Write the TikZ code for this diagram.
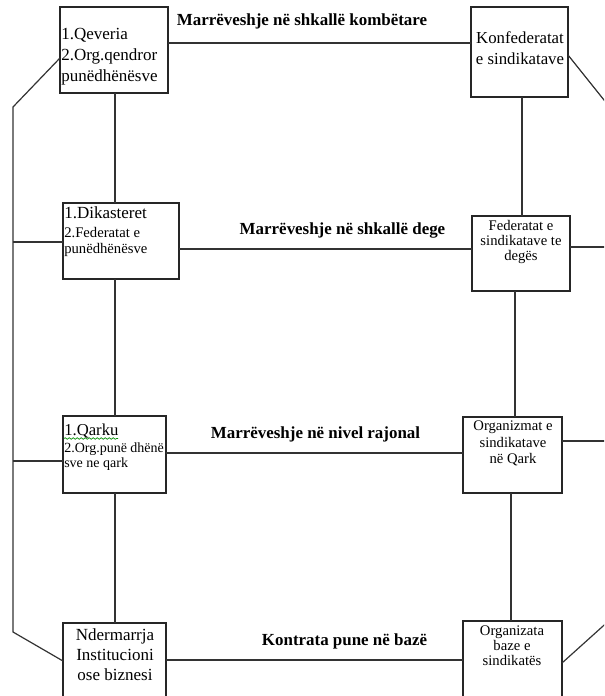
\documentclass[tikz,border=0pt]{standalone}
\usepackage{fontspec}
\setmainfont{Liberation Serif}
\usetikzlibrary{decorations.pathmorphing}
\tikzset{
  box/.style={draw=black!85, line width=0.9pt, inner sep=0pt, outer sep=0pt, fill=white},
  conn/.style={draw=black!80, line width=0.9pt},
  tl/.style={inner sep=0pt, anchor=base west, font=\fontsize{12.75}{15}\selectfont},
  ts/.style={inner sep=0pt, anchor=base west, font=\fontsize{11}{13}\selectfont},
  tq/.style={inner sep=0pt, anchor=base west, font=\fontsize{10.5}{13}\selectfont},
  cl/.style={inner sep=0pt, anchor=base, font=\fontsize{12.6}{15}\selectfont},
  cs/.style={inner sep=0pt, anchor=base, font=\fontsize{11}{13}\selectfont},
  lab/.style={inner sep=0pt, anchor=base, font=\fontsize{12.7}{15}\selectfont\bfseries}
}
\begin{document}
\begin{tikzpicture}[x=0.75pt,y=-0.75pt]
\useasboundingbox (0,0) rectangle (604,696);
\clip (0,0) rectangle (604,696);
\fill[white] (0,0) rectangle (604,696);
% boxes
\node[box, minimum width=81pt, minimum height=64.5pt] (B1) at (114,50) {};
\node[box, minimum width=72.75pt, minimum height=67.5pt] (Kf) at (519.5,52) {};
\node[box, minimum width=87pt, minimum height=57pt] (B2) at (121,241) {};
\node[box, minimum width=73.5pt, minimum height=56.25pt] (Fd) at (521,253.5) {};
\node[box, minimum width=77.25pt, minimum height=57.75pt] (B3) at (114.5,454.5) {};
\node[box, minimum width=74.25pt, minimum height=57pt] (Og) at (512.5,455) {};
\node[box, minimum width=77.25pt, minimum height=72.75pt] (B4) at (114.5,671.5) {};
\node[box, minimum width=74.25pt, minimum height=74.25pt] (Oz) at (512.5,670.5) {};
% connectors
\draw[conn] (B1.east |- 0,43) -- (Kf.west |- 0,43);
\draw[conn] (B1.south -| 115,0) -- (B2.north -| 115,0);
\draw[conn] (Kf.south -| 522,0) -- (Fd.north -| 522,0);
\draw[conn] (B2.east |- 0,249) -- (Fd.west |- 0,249);
\draw[conn] (B2.south -| 115,0) -- (B3.north -| 115,0);
\draw[conn] (Fd.south -| 515,0) -- (Og.north -| 515,0);
\draw[conn] (B3.east |- 0,453) -- (Og.west |- 0,453);
\draw[conn] (B3.south -| 115,0) -- (B4.north -| 115,0);
\draw[conn] (Og.south -| 511,0) -- (Oz.north -| 511,0);
\draw[conn] (B4.east |- 0,660) -- (Oz.west |- 0,660);
% left spine
\coordinate (L1) at (13,107);
\coordinate (L2) at (13,632);
\coordinate (L3) at (13,242);
\coordinate (L4) at (13,461);
\draw[conn] (B1.west |- 0,58) -- (L1) -- (L2) -- (B4.west |- 0,661);
\draw[conn] (L3) -- (B2.west |- L3);
\draw[conn] (L4) -- (B3.west |- L4);
% right side
\coordinate (R1) at (610,247);
\coordinate (R2) at (610,441);
\coordinate (R3) at (612,110);
\coordinate (R4) at (612,618);
\draw[conn] (Fd.east |- R1) -- (R1);
\draw[conn] (Og.east |- R2) -- (R2);
\draw[conn] (Kf.east |- 0,55) -- (R3);
\draw[conn] (Oz.east |- 0,663) -- (R4);
% texts
\node[tl] (t1a) at (61,39) {1.Qeveria};
\node[tl] (t1b) at (61,60) {2.Org.qendror};
\node[tl] (t1c) at (61,81) {punëdhënësve};
\node[cl] (tka) at (520,43) {Konfederatat};
\node[cl] (tkb) at (520,64) {e sindikatave};
\node[tl] (t2a) at (64,218) {1.Dikasteret};
\node[ts] (t2b) at (64,237) {2.Federatat e};
\node[ts] (t2c) at (64,253) {punëdhënësve};
\node[cs] (tfa) at (521,230) {Federatat e};
\node[cs] (tfb) at (521,245) {sindikatave te};
\node[cs] (tfc) at (521,260) {degës};
\node[tl, font=\fontsize{12.5}{15}\selectfont] (t3a) at (64,435) {1.Qarku};
\draw[green!55!black, line width=0.5pt, decorate, decoration={snake, amplitude=0.6pt, segment length=3pt}] (64,438.5) -- (118,438.5);
\node[tq] (t3b) at (64,452) {2.Org.punë dhënë};
\node[tq] (t3c) at (64,467) {sve ne qark};
\node[cs] (toa) at (513,430) {Organizmat e};
\node[cs] (tob) at (513,447) {sindikatave};
\node[cs] (toc) at (513,463) {në Qark};
\node[cl, font=\fontsize{12.75}{15}\selectfont] (t4a) at (115,640) {Ndermarrja};
\node[cl, font=\fontsize{12.75}{15}\selectfont] (t4b) at (115,660) {Institucioni};
\node[cl, font=\fontsize{12.75}{15}\selectfont] (t4c) at (115,680) {ose biznesi};
\node[cs] (tza) at (512,635) {Organizata};
\node[cs] (tzb) at (512,650) {baze e};
\node[cs] (tzc) at (512,665) {sindikatës};
% labels
\node[lab] (m1) at (302,25) {Marrëveshje në shkallë kombëtare};
\node[lab] (m2) at (342.5,234) {Marrëveshje në shkallë dege};
\node[lab] (m3) at (315.5,438) {Marrëveshje në nivel rajonal};
\node[lab] (m4) at (344.5,645) {Kontrata pune në bazë};
\end{tikzpicture}
\end{document}
